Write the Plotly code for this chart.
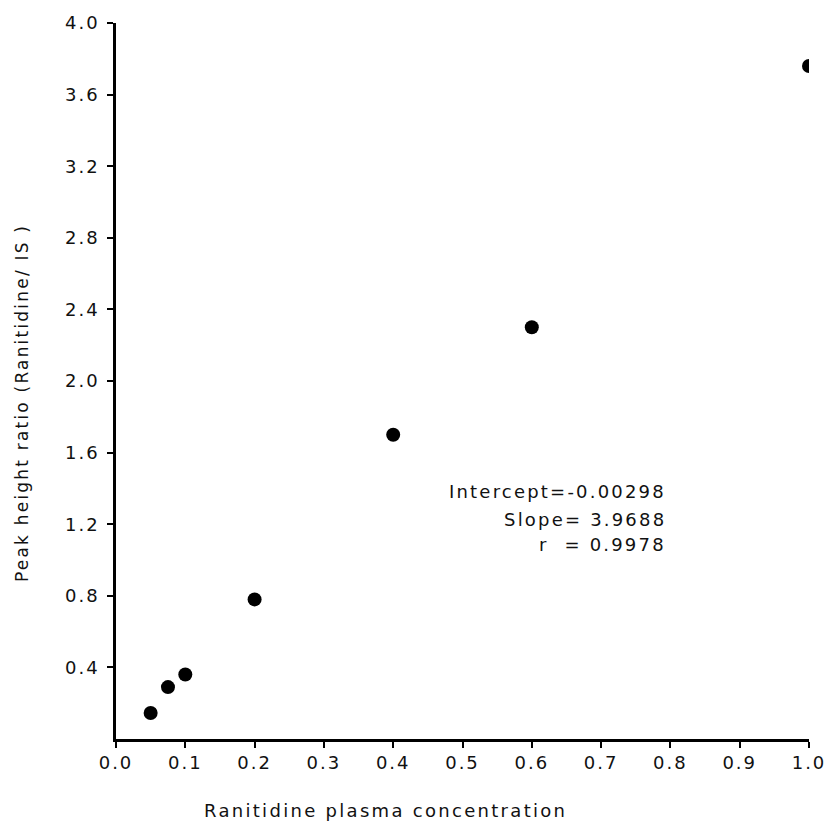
import plotly.graph_objects as go

conc = [0.05, 0.075, 0.10, 0.20, 0.40, 0.60, 1.00]
ratio = [0.145, 0.29, 0.36, 0.78, 1.70, 2.30, 3.76]

x_ticks = [0.0, 0.1, 0.2, 0.3, 0.4, 0.5, 0.6, 0.7, 0.8, 0.9, 1.0]
y_ticks = [0.4, 0.8, 1.2, 1.6, 2.0, 2.4, 2.8, 3.2, 3.6, 4.0]

stats_lines = ["Intercept=-0.00298", "Slope= 3.9688", "r  = 0.9978"]
stats_y = [1.38, 1.225, 1.085]

FONT = "DejaVu Sans"
INK = "#111111"


def spaced(s, px=2.0):
    return '<span style="letter-spacing:%.1fpx">%s</span>' % (px, s)


fig = go.Figure()
fig.add_trace(go.Scatter(
    x=conc, y=ratio, mode="markers",
    marker=dict(color="black", size=14, line=dict(width=0)),
    showlegend=False,
))

for txt, yy in zip(stats_lines, stats_y):
    fig.add_annotation(x=0.797, y=yy, xref="x", yref="y", text=spaced(txt, 2.2),
                       showarrow=False, xanchor="right", yanchor="middle",
                       font=dict(family=FONT, size=18, color=INK))

fig.add_annotation(x=0, y=0.5, xref="paper", yref="paper",
                   text=spaced("Peak height ratio (Ranitidine/ IS )", 2.2), textangle=-90,
                   showarrow=False, xanchor="center", yanchor="middle",
                   xshift=-94, yshift=-22,
                   font=dict(family=FONT, size=17, color=INK))
fig.add_annotation(x=0, y=0, xref="paper", yref="paper",
                   text=spaced("Ranitidine plasma concentration", 2.3),
                   showarrow=False, xanchor="center", yanchor="middle",
                   xshift=269, yshift=-71,
                   font=dict(family=FONT, size=18, color=INK))

fig.update_xaxes(range=[0, 1.0], tickvals=x_ticks,
                 ticktext=[spaced("%.1f" % v, 2) for v in x_ticks],
                 showline=True, linecolor="black", linewidth=2.5,
                 ticks="outside", ticklen=6, tickwidth=2, tickcolor="black",
                 showgrid=False, zeroline=False,
                 tickfont=dict(family=FONT, size=18, color=INK))
fig.update_yaxes(range=[0, 4.0], tickvals=y_ticks,
                 ticktext=[spaced("%.1f" % v, 2) for v in y_ticks],
                 showline=True, linecolor="black", linewidth=2.5,
                 ticks="outside", ticklen=6, tickwidth=2, tickcolor="black",
                 showgrid=False, zeroline=False, ticklabelstandoff=4,
                 tickfont=dict(family=FONT, size=18, color=INK))

fig.update_layout(
    width=838, height=828,
    margin=dict(l=116, r=22, t=23, b=89),
    plot_bgcolor="white", paper_bgcolor="white",
)

fig.write_html(
    "out.html",
    config={"displayModeBar": False},
    post_script="document.body.style.margin='0';document.body.style.overflow='hidden';",
)
